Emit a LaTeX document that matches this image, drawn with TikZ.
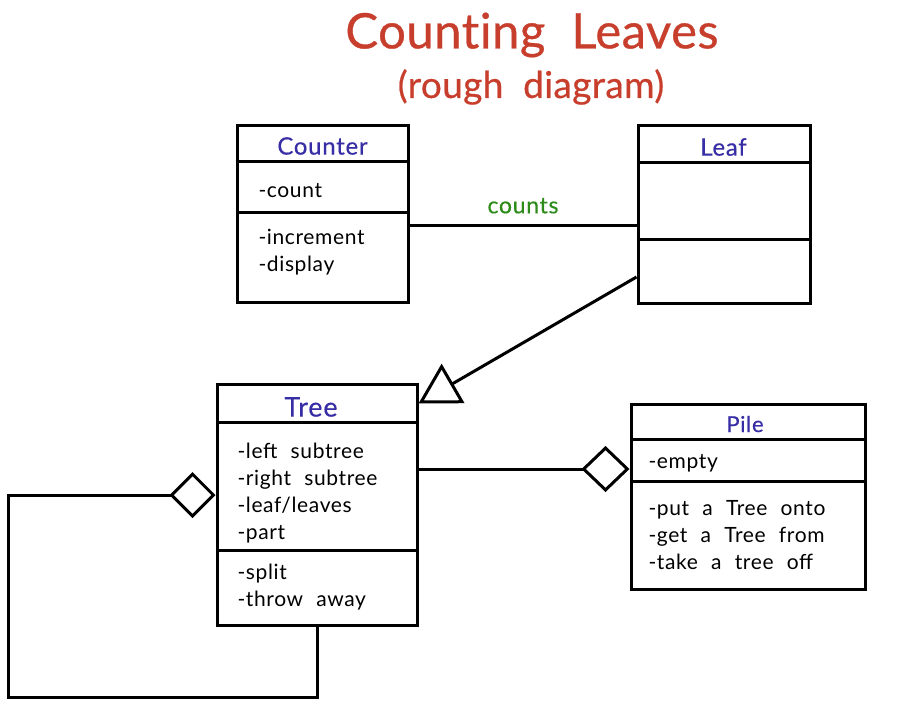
\documentclass[tikz,border=0pt]{standalone}
\usepackage{fontspec}
\setmainfont{Lato}
\newfontfamily\handfont[LetterSpace=3,WordSpace=2.2]{Lato}
\newfontfamily\hdrfont[LetterSpace=3,FakeBold=0.3]{Lato}
\newfontfamily\titlefont[LetterSpace=1,WordSpace=2,FakeBold=0.6,Ligatures=NoCommon]{Lato}
\usetikzlibrary{arrows.meta}
\definecolor{titlered}{RGB}{200,62,45}
\definecolor{hdrblue}{RGB}{55,45,165}
\definecolor{cntgreen}{RGB}{45,140,25}
\begin{document}
\begin{tikzpicture}[x=1pt,y=-1pt,line width=3pt,
  box/.style={draw,rectangle,inner sep=0pt,line width=3pt},
  hdr/.style={text=hdrblue,inner sep=0pt,font=\hdrfont\fontsize{24}{28}\selectfont},
  attr/.style={anchor=west,inner sep=0pt,align=left,font=\handfont\fontsize{21}{27}\selectfont},
  conn/.style={line width=3pt},
]
\useasboundingbox (0,0) rectangle (918,712);
% titles
\node[text=titlered,inner sep=0pt,font=\titlefont\fontsize{49}{52}\selectfont] (title) at (532,35) {Counting Leaves};
\node[text=titlered,inner sep=0pt,font=\titlefont\fontsize{37}{42}\selectfont] (subtitle) at (531,87) {(rough diagram)};
% boxes
\node[box,minimum width=171pt,minimum height=177pt] (counter) at (322.5,213.5) {};
\node[box,minimum width=172pt,minimum height=178pt] (leaf) at (724,214) {};
\node[box,minimum width=200pt,minimum height=241pt] (tree) at (317,504.5) {};
\node[box,minimum width=234pt,minimum height=185pt] (pile) at (748,496.5) {};
% dividers
\draw ([yshift=-38pt]counter.north west) -- ([yshift=-38pt]counter.north east);
\draw ([yshift=-89pt]counter.north west) -- ([yshift=-89pt]counter.north east);
\draw ([yshift=-39pt]leaf.north west) -- ([yshift=-39pt]leaf.north east);
\draw ([yshift=-116pt]leaf.north west) -- ([yshift=-116pt]leaf.north east);
\draw ([yshift=-40pt]tree.north west) -- ([yshift=-40pt]tree.north east);
\draw ([yshift=-168pt]tree.north west) -- ([yshift=-168pt]tree.north east);
\draw ([yshift=-37pt]pile.north west) -- ([yshift=-37pt]pile.north east);
\draw ([yshift=-79pt]pile.north west) -- ([yshift=-79pt]pile.north east);
% texts
\node[hdr] (counterT) at (322.5,146) {Counter};
\node[hdr] (leafT) at (723.5,147) {Leaf};
\node[hdr,font=\hdrfont\fontsize{27}{30}\selectfont] (treeT) at (311,407) {Tree};
\node[hdr,font=\hdrfont\fontsize{22}{26}\selectfont] (pileT) at (745,424) {Pile};
\node[attr] (counterA) at (257,191) {-count};
\node[attr] (counterO) at (257,252) {-increment\\-display};
\node[attr] (treeA) at (236,493) {-left subtree\\-right subtree\\-leaf/leaves\\-part};
\node[attr] (treeO) at (236,587) {-split\\-throw away};
\node[attr] (pileA) at (647,463) {-empty};
\node[attr] (pileO) at (647,535) {-put a Tree onto\\-get a Tree from\\-take a tree off};
% connectors
\draw[conn] ([yshift=-11.5pt]counter.east) -- node[above=10pt,inner sep=0pt,text=cntgreen,font=\hdrfont\fontsize{23}{26}\selectfont] (countsL) {counts} ([yshift=-11pt]leaf.west);
\draw[conn,-{Triangle[open,length=40pt,width=45pt]}] ([yshift=-63pt]leaf.west) -- ([yshift=-21pt]tree.north east);
\draw[conn,-{Diamond[open,length=48pt,width=46pt]}] ([yshift=35.5pt]tree.east) -- ([yshift=27.5pt]pile.west);
\draw[conn,-{Diamond[open,length=46pt,width=46pt]}] (tree.south) -- ++(0,71) -| ([xshift=-207pt,yshift=9.5pt]tree.west) -- ([yshift=9.5pt]tree.west);
\end{tikzpicture}
\end{document}
